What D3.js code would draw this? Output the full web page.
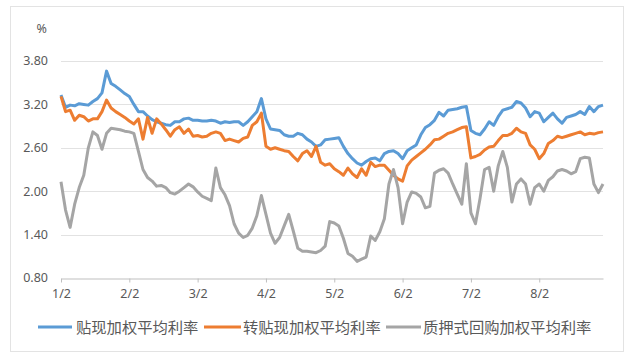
<!DOCTYPE html>
<html><head><meta charset="utf-8">
<script src="https://cdn.jsdelivr.net/npm/d3@7"></script>
<style>
html,body{margin:0;padding:0;background:#fff;}
svg{display:block;}
text{font-family:"Noto Sans","Noto Sans CJK SC",sans-serif;fill:#595959;}
</style></head>
<body><svg id="c" width="640" height="358"></svg>
<script>
const monthLabels = ["1/2","2/2","3/2","4/2","5/2","6/2","7/2","8/2"];
const pointsPerMonth = 15;
const yTicks = [0.8,1.4,2.0,2.6,3.2,3.8];
const seriesNames = ["贴现加权平均利率","转贴现加权平均利率","质押式回购加权平均利率"];
const discount = [3.33,3.16,3.19,3.18,3.21,3.20,3.19,3.24,3.28,3.36,3.66,3.49,3.45,3.40,3.35,3.31,3.20,3.10,3.10,3.04,
2.99,2.96,2.94,2.92,2.91,2.96,2.96,3.00,3.01,2.98,2.98,2.97,2.97,2.98,2.97,2.94,2.96,2.95,2.96,2.96,
2.91,2.96,3.03,3.10,3.28,3.00,2.86,2.85,2.84,2.78,2.76,2.76,2.80,2.78,2.72,2.68,2.62,2.64,2.71,2.72,
2.73,2.74,2.62,2.52,2.45,2.39,2.36,2.41,2.45,2.46,2.42,2.52,2.55,2.56,2.52,2.45,2.56,2.60,2.64,2.78,
2.88,2.92,2.98,3.09,3.04,3.12,3.13,3.14,3.16,3.17,2.84,2.80,2.78,2.86,2.96,2.91,3.03,3.12,3.14,3.16,
3.24,3.22,3.15,3.03,3.10,3.08,2.96,3.02,3.08,3.00,2.94,3.02,3.04,3.06,3.10,3.06,3.17,3.10,3.17,3.19];
const rediscount = [3.31,3.10,3.12,2.98,3.05,3.03,2.97,3.00,3.00,3.10,3.26,3.15,3.10,3.06,3.02,2.97,2.93,3.00,2.72,3.02,
2.80,3.00,2.93,2.85,2.76,2.85,2.89,2.80,2.86,2.76,2.77,2.75,2.76,2.80,2.82,2.80,2.70,2.72,2.70,2.68,
2.73,2.75,2.91,2.96,3.08,2.62,2.58,2.60,2.58,2.56,2.55,2.48,2.42,2.52,2.56,2.48,2.62,2.40,2.36,2.38,
2.31,2.27,2.22,2.32,2.24,2.19,2.31,2.22,2.40,2.34,2.36,2.36,2.29,2.22,2.17,2.14,2.35,2.43,2.48,2.53,
2.58,2.64,2.71,2.72,2.76,2.80,2.82,2.85,2.88,2.89,2.46,2.48,2.51,2.57,2.61,2.62,2.70,2.77,2.77,2.80,
2.87,2.82,2.80,2.64,2.58,2.45,2.52,2.66,2.70,2.76,2.74,2.76,2.78,2.80,2.82,2.78,2.80,2.79,2.81,2.82];
const repo = [2.13,1.74,1.50,1.82,2.05,2.22,2.60,2.82,2.77,2.58,2.80,2.87,2.86,2.85,2.83,2.82,2.80,2.55,2.30,2.19,
2.14,2.07,2.08,2.05,1.98,1.96,2.00,2.05,2.10,2.06,1.99,1.93,1.90,1.87,2.32,2.05,1.95,1.80,1.55,1.42,
1.36,1.39,1.49,1.66,1.94,1.68,1.42,1.28,1.36,1.52,1.68,1.45,1.21,1.17,1.17,1.16,1.15,1.18,1.24,1.58,
1.56,1.52,1.35,1.14,1.10,1.03,1.06,1.09,1.38,1.32,1.44,1.62,2.10,2.30,2.05,1.55,1.85,1.99,1.97,1.92,
1.77,1.79,2.25,2.29,2.31,2.25,2.10,1.96,1.82,2.38,1.70,1.55,1.90,2.30,2.33,2.00,2.35,2.55,2.33,1.85,
2.10,2.17,2.10,1.82,2.05,2.10,2.00,2.15,2.20,2.28,2.30,2.28,2.24,2.27,2.45,2.47,2.46,2.10,1.98,2.10];
const colors = ["#5b9bd5","#ed7d31","#a5a5a5"];

const svg = d3.select("#c");
const m = {l:61, r:603, t:61, b:278};
const n = discount.length;
const x = d3.scaleLinear().domain([0,(n-1)/pointsPerMonth]).range([m.l,m.r]);
const y = d3.scaleLinear().domain([0.8,3.8]).range([m.b,m.t]);

// outer border
svg.append("rect").attr("x",10.5).attr("y",6.5).attr("width",613).attr("height",345)
  .attr("fill","none").attr("stroke","#e3e3e3");

// gridlines
svg.append("g").selectAll("line").data(yTicks.slice(1)).join("line")
  .attr("x1",m.l).attr("x2",m.r).attr("y1",d=>Math.round(y(d))+0.5).attr("y2",d=>Math.round(y(d))+0.5)
  .attr("stroke","#e2e2e2").attr("stroke-width",1);

// y labels
svg.append("g").selectAll("text").data(yTicks).join("text")
  .attr("x",48).attr("y",d=>y(d)).attr("dy","0.35em").attr("text-anchor","end")
  .attr("font-size",12.5).text(d=>d.toFixed(2));
svg.append("text").attr("x",47).attr("y",33).attr("text-anchor","end").attr("font-size",12.5).text("%");

// x axis
const xa = d3.axisBottom(x).tickValues(d3.range(monthLabels.length)).tickFormat(i=>monthLabels[i])
  .tickSize(4).tickSizeOuter(0).tickPadding(7);
const gx = svg.append("g").attr("transform",`translate(0,${Math.round(y(0.8))+0.5})`).call(xa);
gx.select(".domain").attr("stroke","#bfbfbf");
gx.selectAll(".tick line").attr("stroke","#bfbfbf");
gx.selectAll(".tick text").attr("font-size",12.5).attr("fill","#595959")
  .style("font-family",'"Noto Sans",sans-serif');

// lines
const line = d3.line().x((d,i)=>x(i/pointsPerMonth)).y(d=>y(d));
[discount, rediscount, repo].forEach((s,k)=>{
  svg.append("path").datum(s).attr("d",line).attr("fill","none")
    .attr("stroke",colors[k]).attr("stroke-width",3).attr("stroke-linejoin","round");
});

// legend
const legX = [[38,72,76],[204,241,243],[386,421,423]];
const legY = 327;
seriesNames.forEach((nm,k)=>{
  svg.append("line").attr("x1",legX[k][0]).attr("x2",legX[k][1]).attr("y1",legY).attr("y2",legY)
    .attr("stroke",colors[k]).attr("stroke-width",3);
  svg.append("text").attr("x",legX[k][2]).attr("y",legY).attr("dy","0.36em")
    .attr("font-size",15.3).style("font-family",'"Noto Sans CJK SC",sans-serif').text(nm);
});
</script></body></html>
